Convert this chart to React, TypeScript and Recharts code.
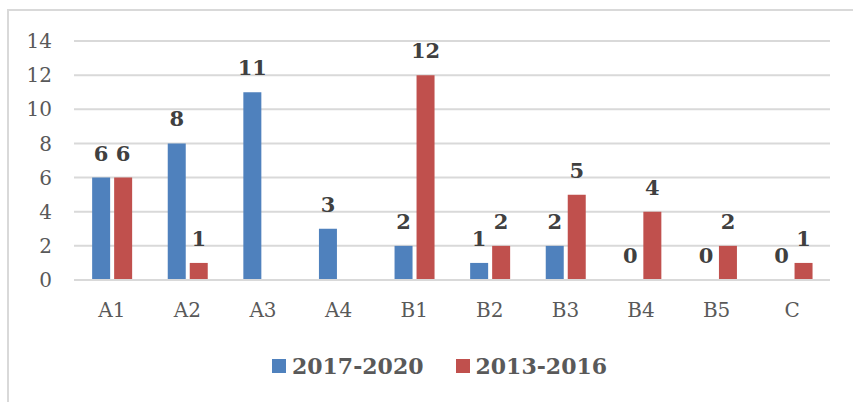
import React from 'react';
import { BarChart, Bar, XAxis, YAxis, CartesianGrid, Legend, LabelList } from 'recharts';

const categories = ['A1', 'A2', 'A3', 'A4', 'B1', 'B2', 'B3', 'B4', 'B5', 'C'];
const recent = [6, 8, 11, 3, 2, 1, 2, 0, 0, 0];
const earlier = [6, 1, null, null, 12, 2, 5, 4, 2, 1];
const yTicks = [0, 2, 4, 6, 8, 10, 12, 14];

const SERIES = [
  { key: 'recent', name: '2017-2020', color: '#4f81bd' },
  { key: 'earlier', name: '2013-2016', color: '#c0504d' },
];

const data = categories.map((c, i) => ({ cat: c, recent: recent[i], earlier: earlier[i] }));

const FONT = '"DejaVu Serif", serif';

// keep zero-value bars alive so their "0" labels still show
const keepZero = (v: any) => (v === 0 ? 0.01 : 0);

const LegendBox = () => (
  <div style={{ display: 'flex', justifyContent: 'center', gap: 32, fontFamily: FONT }}>
    {SERIES.map((s) => (
      <div key={s.key} style={{ display: 'flex', alignItems: 'center', gap: 6 }}>
        <span style={{ width: 14, height: 14, background: s.color, display: 'inline-block' }} />
        <span style={{ fontSize: 22, fontWeight: 'bold', color: '#595959' }}>{s.name}</span>
      </div>
    ))}
  </div>
);

const App: React.FC = () => {
  return (
    <div style={{ position: 'absolute', left: 0, top: 0, width: 853, height: 402, background: '#fff' }}>
      <div
        style={{
          position: 'absolute',
          left: 7,
          top: 9,
          width: 860,
          height: 400,
          borderTop: '2px solid #d9d9d9',
          borderLeft: '2px solid #d9d9d9',
        }}
      />
      <div style={{ position: 'absolute', left: 0, top: 0 }}>
        <BarChart
          width={853}
          height={402}
          data={data}
          margin={{ top: 41, right: 23, left: 0, bottom: 82 }}
          barCategoryGap="24%"
          barGap={4}
        >
          <CartesianGrid vertical={false} stroke="#d9d9d9" strokeWidth={2} />
          <XAxis
            dataKey="cat"
            height={40}
            tickSize={0}
            tickMargin={23}
            axisLine={{ stroke: '#d9d9d9', strokeWidth: 2 }}
            tick={{ fill: '#595959', fontSize: 20, fontFamily: FONT }}
          />
          <YAxis
            width={74}
            domain={[0, 14]}
            ticks={yTicks}
            interval={0}
            tickSize={0}
            tickMargin={22}
            axisLine={false}
            tick={{ fill: '#595959', fontSize: 20, fontFamily: FONT }}
          />
          <Legend
            verticalAlign="middle"
            layout="horizontal"
            wrapperStyle={{ top: 353, left: 13, width: 853 }}
            content={() => <LegendBox />}
          />
          {SERIES.map((s) => (
            <Bar
              key={s.key}
              dataKey={s.key}
              name={s.name}
              fill={s.color}
              minPointSize={keepZero}
              isAnimationActive={false}
            >
              <LabelList
                dataKey={s.key}
                position="top"
                offset={17}
                style={{ fill: '#404040', fontSize: 21, fontWeight: 'bold', fontFamily: FONT }}
              />
            </Bar>
          ))}
        </BarChart>
      </div>
    </div>
  );
};

export default App;
